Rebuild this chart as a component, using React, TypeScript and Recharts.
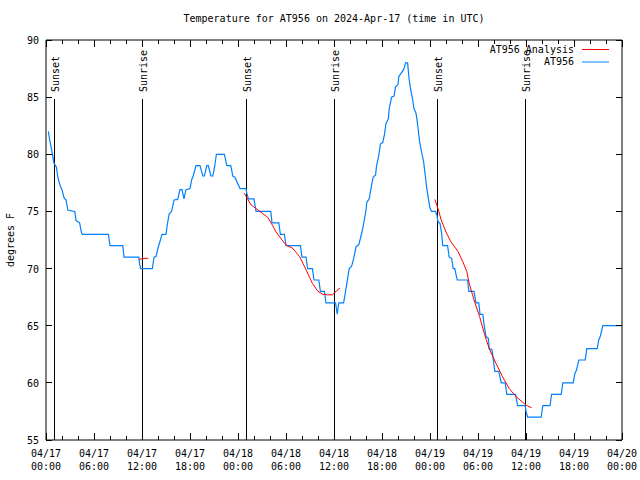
import React from 'react';
import { ComposedChart, Line, XAxis, YAxis, ReferenceLine, Legend } from 'recharts';

// Observed temperature (hours since 04/17 00:00 UTC, degrees F)
const obsHours = [
  0.3, 0.45, 0.7, 0.85, 1.0, 1.3, 1.5, 1.8, 2.0, 2.25, 2.5, 2.75, 3.6, 3.75, 4.2, 4.45, 4.6, 7.8, 8.0, 9.6,
  9.75, 11.6, 11.7, 11.85, 13.3, 13.5, 13.75, 14.0, 14.3, 14.5, 15.0, 15.15, 15.4, 15.7, 16.0, 16.45, 16.75, 17.0, 17.25, 17.5,
  18.0, 18.2, 18.4, 18.75, 19.25, 19.6, 19.8, 20.1, 20.3, 20.6, 20.85, 21.1, 21.3, 22.3, 22.6, 23.1, 23.35, 23.6, 24.25, 25.0,
  25.1, 25.3, 26.0, 26.25, 28.1, 28.25, 29.1, 29.3, 29.8, 30.0, 31.8, 32.0, 32.5, 32.7, 33.3, 33.5, 34.1, 34.3, 34.8, 35.0,
  36.2, 36.4, 36.6, 37.2, 37.4, 37.7, 37.9, 38.2, 38.5, 38.75, 39.1, 39.5, 39.7, 40.0, 40.1, 40.4, 40.7, 40.9, 41.2, 41.3,
  41.6, 41.8, 42.1, 42.3, 42.5, 42.8, 42.9, 43.2, 43.5, 43.7, 44.0, 44.1, 44.4, 44.7, 44.95, 45.2, 45.4, 45.6, 45.8, 46.0,
  46.25, 46.4, 46.7, 46.95, 47.2, 47.4, 47.6, 47.8, 48.0, 48.2, 48.7, 48.85, 49.0, 49.25, 49.45, 49.6, 50.2, 50.4, 50.7, 50.9,
  51.1, 51.4, 52.7, 52.85, 53.5, 53.75, 54.1, 54.25, 54.6, 54.8, 55.0, 55.3, 55.4, 55.75, 55.9, 56.1, 56.6, 56.9, 57.4, 57.6,
  58.7, 58.95, 59.9, 60.0, 60.2, 61.9, 62.1, 63.0, 63.2, 64.4, 64.6, 65.9, 66.1, 66.3, 66.6, 67.4, 67.6, 68.9, 69.1, 69.3,
  69.6, 72.0,
];
const obsTemps = [
  82.0, 81.3, 80.4, 79.8, 79.2, 78.9, 77.9, 77.2, 76.9, 76.2, 76.0, 75.1, 75.0, 74.2, 74.0, 73.1, 73.0, 73.0, 72.0, 72.0,
  71.0, 71.0, 70.4, 70.0, 70.0, 71.0, 71.05, 71.8, 72.5, 73.0, 73.0, 73.8, 74.8, 75.0, 76.0, 76.05, 76.9, 76.9, 76.1, 76.9,
  77.0, 77.75, 78.1, 79.0, 79.0, 78.1, 78.1, 79.0, 79.0, 78.1, 78.1, 79.0, 80.0, 80.0, 79.0, 79.0, 78.1, 78.0, 77.0, 77.0,
  76.6, 76.1, 76.1, 75.0, 75.0, 74.0, 74.0, 73.0, 73.0, 72.0, 72.0, 71.0, 71.0, 70.0, 70.0, 69.0, 69.0, 68.0, 68.0, 67.0,
  67.0, 66.0, 67.0, 67.0, 67.8, 69.1, 70.0, 70.2, 71.0, 71.9, 72.1, 73.2, 73.9, 75.1, 75.8, 76.1, 77.3, 78.0, 78.2, 78.9,
  79.9, 80.9, 81.05, 81.7, 82.7, 83.1, 84.0, 85.0, 85.1, 85.9, 86.1, 86.8, 87.1, 87.4, 88.0, 88.0, 86.5, 85.6, 84.9, 84.0,
  83.6, 82.9, 81.1, 80.2, 79.35, 78.2, 77.0, 76.1, 75.3, 75.0, 75.0, 74.7, 74.1, 73.95, 73.1, 72.0, 72.0, 71.0, 70.9, 70.0,
  70.0, 69.0, 69.0, 68.0, 68.0, 67.0, 67.0, 66.0, 66.0, 64.9, 64.05, 63.9, 63.0, 62.9, 62.1, 61.0, 61.0, 60.0, 60.0, 59.0,
  59.0, 58.0, 58.0, 57.5, 57.0, 57.0, 58.0, 58.0, 59.0, 59.0, 60.0, 60.0, 60.8, 61.1, 62.0, 62.0, 63.0, 63.0, 63.75, 64.1,
  65.0, 65.0,
];

// Analysis curve (three segments separated by null gaps)
const fitHours = [
  11.6, 12.1, 12.8,
  18.0,
  24.8, 25.1, 25.6, 26.25, 27.1, 27.7, 28.3, 28.75, 29.4, 30.0, 30.8, 31.7, 32.5, 33.3, 34.0, 34.6, 35.2, 35.8, 36.25, 36.75,
  42.0,
  48.6, 49.0, 49.4, 50.0, 50.6, 51.5, 52.1, 52.6, 52.9, 53.5, 54.2, 54.8, 55.4, 56.25, 57.1, 57.9, 58.75, 59.6, 60.0, 60.4, 60.7,
];
const fitTemps: (number | null)[] = [
  70.8, 70.88, 70.9,
  null,
  76.6, 76.2, 75.6, 75.25, 74.8, 74.5, 73.8, 73.2, 72.6, 72.06, 71.8, 71.05, 69.9, 68.7, 68.0, 67.75, 67.7, 67.7, 68.0, 68.3,
  null,
  76.05, 75.25, 74.25, 73.2, 72.35, 71.5, 70.6, 69.75, 68.7, 67.25, 65.8, 64.3, 63.0, 61.7, 60.5, 59.5, 58.8, 58.3, 58.06, 57.9, 57.85,
];

const xTicks = [0, 2, 4, 6, 8, 10, 12, 14, 16, 18, 20, 22, 24, 26, 28, 30, 32, 34, 36, 38, 40, 42, 44, 46, 48, 50, 52, 54, 56, 58, 60, 62, 64, 66, 68, 70, 72];
const labelHours = [0, 6, 12, 18, 24, 30, 36, 42, 48, 54, 60, 66, 72];
const labelDates = ['04/17', '04/17', '04/17', '04/17', '04/18', '04/18', '04/18', '04/18', '04/19', '04/19', '04/19', '04/19', '04/20'];
const labelTimes = ['00:00', '06:00', '12:00', '18:00', '00:00', '06:00', '12:00', '18:00', '00:00', '06:00', '12:00', '18:00', '00:00'];
const yTicks = [55, 60, 65, 70, 75, 80, 85, 90];

const eventHours = [1.04, 12.04, 25.0, 36.04, 48.9, 59.9];
const eventNames = ['Sunset', 'Sunrise', 'Sunset', 'Sunrise', 'Sunset', 'Sunrise'];

const FONT = '"DejaVu Sans Mono", "Liberation Mono", monospace';
const BLUE = '#0080ff';
const RED = '#ff0000';

const obsData = obsHours.map((h, i) => ({ h, t: obsTemps[i] }));
const fitData = fitHours.map((h, i) => ({ h, t: fitTemps[i] }));

const BottomTick = (props: any) => {
  const { x, y, payload } = props;
  const i = labelHours.indexOf(payload.value);
  const major = i >= 0;
  return (
    <g>
      <line x1={x} x2={x} y1={y} y2={y - (major ? 7 : 4)} stroke="#000" shapeRendering="crispEdges" />
      {major && (
        <text x={x} y={y + 17} textAnchor="middle" fontFamily={FONT} fontSize={10} fill="#000">
          {labelDates[i]}
        </text>
      )}
      {major && (
        <text x={x} y={y + 30} textAnchor="middle" fontFamily={FONT} fontSize={10} fill="#000">
          {labelTimes[i]}
        </text>
      )}
    </g>
  );
};

const TopTick = (props: any) => {
  const { x, y, payload } = props;
  const major = labelHours.indexOf(payload.value) >= 0;
  return <line x1={x} x2={x} y1={y} y2={y + (major ? 7 : 4)} stroke="#000" shapeRendering="crispEdges" />;
};

const LeftTick = (props: any) => {
  const { x, y, payload } = props;
  return (
    <g>
      <line x1={x} x2={x + 6} y1={y} y2={y} stroke="#000" shapeRendering="crispEdges" />
      <text x={x - 7} y={y + 4} textAnchor="end" fontFamily={FONT} fontSize={10} fill="#000">
        {payload.value}
      </text>
    </g>
  );
};

const RightTick = (props: any) => {
  const { x, y } = props;
  return <line x1={x} x2={x - 6} y1={y} y2={y} stroke="#000" shapeRendering="crispEdges" />;
};

const makeEventShape = (name: string) => (props: any) => {
  const { x1, y1, y2 } = props;
  const top = Math.min(y1, y2);
  const bottom = Math.max(y1, y2);
  const x = Math.round(x1) + 0.5;
  return (
    <g>
      <line x1={x} x2={x} y1={top + 59} y2={bottom} stroke="#000" strokeWidth={1} />
      <text
        transform={`translate(${x + 4.5},${top + 52}) rotate(-90)`}
        fontFamily={FONT}
        fontSize={10}
        fill="#000"
        textAnchor="start"
      >
        {name}
      </text>
    </g>
  );
};

const LegendBox = () => (
  <svg width={150} height={28}>
    <text x={104} y={10.5} textAnchor="end" fontFamily={FONT} fontSize={10} fill="#000">AT956 Analysis</text>
    <line x1={112} x2={139} y1={7.5} y2={7.5} stroke={RED} strokeWidth={1} />
    <text x={104} y={23} textAnchor="end" fontFamily={FONT} fontSize={10} fill="#000">AT956</text>
    <line x1={112} x2={139} y1={20} y2={20} stroke={BLUE} strokeWidth={1} />
  </svg>
);

export default function App() {
  return (
    <div style={{ position: 'absolute', left: 0, top: 0, width: 640, height: 480, background: '#fff' }}>
      <div
        style={{
          position: 'absolute',
          left: 34,
          top: 13,
          width: 600,
          textAlign: 'center',
          fontFamily: FONT,
          fontSize: 10,
          lineHeight: '12px',
          color: '#000',
        }}
      >
        Temperature for AT956 on 2024-Apr-17 (time in UTC)
      </div>
      <div
        style={{
          position: 'absolute',
          left: 11,
          top: 240,
          transform: 'translate(-50%, -50%) rotate(-90deg)',
          fontFamily: FONT,
          fontSize: 10,
          lineHeight: '12px',
          whiteSpace: 'nowrap',
          color: '#000',
        }}
      >
        degrees F
      </div>
      <ComposedChart width={640} height={480} margin={{ top: 0, right: 0, bottom: 0, left: 0 }}>
        <XAxis
          dataKey="h"
          type="number"
          domain={[0, 72]}
          ticks={xTicks}
          interval={0}
          allowDataOverflow
          height={40}
          tickSize={0}
          tickMargin={0}
          tickLine={false}
          axisLine={{ stroke: '#000' }}
          tick={<BottomTick />}
        />
        <XAxis
          xAxisId="top"
          orientation="top"
          dataKey="h"
          type="number"
          domain={[0, 72]}
          ticks={xTicks}
          interval={0}
          allowDataOverflow
          height={40}
          tickSize={0}
          tickMargin={0}
          tickLine={false}
          axisLine={{ stroke: '#000' }}
          tick={<TopTick />}
        />
        <YAxis
          type="number"
          domain={[55, 90]}
          ticks={yTicks}
          interval={0}
          allowDataOverflow
          width={46}
          tickSize={0}
          tickMargin={0}
          tickLine={false}
          axisLine={{ stroke: '#000' }}
          tick={<LeftTick />}
        />
        <YAxis
          yAxisId="right"
          orientation="right"
          type="number"
          domain={[55, 90]}
          ticks={yTicks}
          interval={0}
          allowDataOverflow
          width={18}
          tickSize={0}
          tickMargin={0}
          tickLine={false}
          axisLine={{ stroke: '#000' }}
          tick={<RightTick />}
        />
        {eventHours.map((h, i) => (
          <ReferenceLine key={i} x={h} stroke="#000" ifOverflow="hidden" shape={makeEventShape(eventNames[i])} />
        ))}
        <Line
          data={obsData}
          dataKey="t"
          type="linear"
          stroke={BLUE}
          strokeWidth={1.2}
          dot={false}
          activeDot={false}
          isAnimationActive={false}
          name="AT956"
        />
        <Line
          data={fitData}
          dataKey="t"
          type="linear"
          stroke={RED}
          strokeWidth={1}
          dot={false}
          activeDot={false}
          connectNulls={false}
          isAnimationActive={false}
          name="AT956 Analysis"
        />
        <Legend
          layout="vertical"
          align="center"
          verticalAlign="middle"
          wrapperStyle={{ position: 'absolute', left: 470, top: 42, width: 150, height: 28 }}
          content={() => <LegendBox />}
        />
      </ComposedChart>
    </div>
  );
}
